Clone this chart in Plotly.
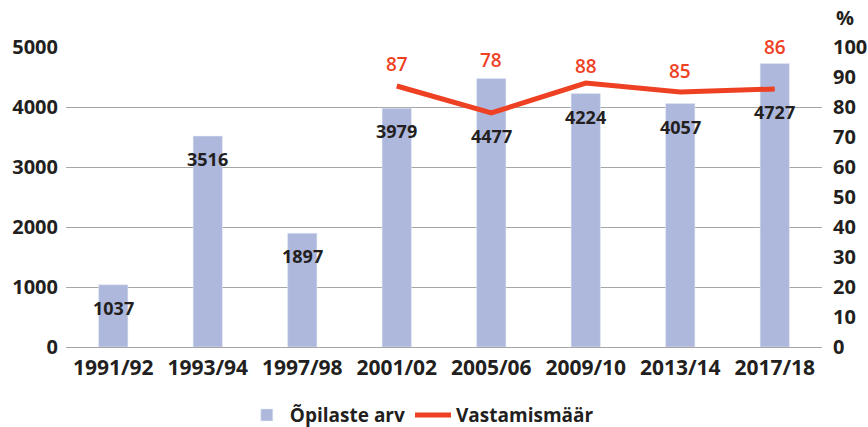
import plotly.graph_objects as go

categories = ["1991/92", "1993/94", "1997/98", "2001/02", "2005/06", "2009/10", "2013/14", "2017/18"]
students = [1037, 3516, 1897, 3979, 4477, 4224, 4057, 4727]
response_cats = ["2001/02", "2005/06", "2009/10", "2013/14", "2017/18"]
response_rate = [87, 78, 88, 85, 86]

left_ticks = [0, 1000, 2000, 3000, 4000, 5000]
right_ticks = [0, 10, 20, 30, 40, 50, 60, 70, 80, 90, 100]

# label offsets (px) - styling only
bar_label_shift = [-23, -23, -23, -23, -58, -23, -23, -49]
line_label_shift = [22, 53, 17, 21, 42]

BAR_COLOR = "#AEB8DC"
LINE_COLOR = "#EE4023"
TEXT = "#231F20"
GRID = "#A6A6A6"
FONT = "Open Sans"

fig = go.Figure()
fig.add_trace(go.Bar(
    x=categories, y=students, name="Õpilaste arv",
    marker_color=BAR_COLOR, width=0.31, yaxis="y",
))
fig.add_trace(go.Scatter(
    x=response_cats, y=response_rate, name="Vastamismäär",
    mode="lines", line=dict(color=LINE_COLOR, width=5), yaxis="y2",
))

annotations = []
for c, v, s in zip(categories, students, bar_label_shift):
    annotations.append(dict(x=c, y=v, xref="x", yref="y", text=str(v), showarrow=False,
                            yshift=s, font=dict(family=FONT, size=18, color=TEXT, weight="bold")))
for c, v, s in zip(response_cats, response_rate, line_label_shift):
    annotations.append(dict(x=c, y=v, xref="x", yref="y2", text=str(v), showarrow=False,
                            yshift=s, font=dict(family=FONT, size=19, color=LINE_COLOR, weight=600)))
annotations.append(dict(x=1.0, y=1.0, xref="paper", yref="paper", text="%", showarrow=False,
                        xanchor="left", yanchor="bottom", xshift=12, yshift=14,
                        font=dict(family=FONT, size=20, color=TEXT, weight="bold")))

fig.update_layout(
    width=868, height=427,
    margin=dict(l=66, r=46, t=47, b=80, autoexpand=False),
    paper_bgcolor="white", plot_bgcolor="rgba(0,0,0,0)",
    font=dict(family=FONT, color=TEXT, size=20, weight="bold"),
    xaxis=dict(showgrid=False, showline=False, ticks="", tickfont=dict(size=21, weight="bold"),
               categoryorder="array", categoryarray=categories, ticklabelstandoff=6,
               automargin=False),
    yaxis=dict(range=[0, 5000], tickmode="array", tickvals=left_ticks, showgrid=True,
               gridcolor=GRID, gridwidth=1, griddash="solid",
               zeroline=True, zerolinecolor=GRID, zerolinewidth=1,
               tickfont=dict(size=20, weight="bold"), ticklabelstandoff=7, automargin=False),
    yaxis2=dict(range=[0, 100], tickmode="array", tickvals=right_ticks, overlaying="y",
                side="right", showgrid=False, zeroline=False,
                tickfont=dict(size=20, weight="bold"), ticklabelstandoff=10, automargin=False),
    legend=dict(orientation="h", x=0.47, xanchor="center", y=-0.227, yanchor="middle",
                font=dict(size=19, weight="bold"), itemwidth=36, tracegroupgap=0),
    annotations=annotations,
    showlegend=True,
)

fig.write_html("out.html", config={"displayModeBar": False},
               post_script="document.body.style.margin='0';")
